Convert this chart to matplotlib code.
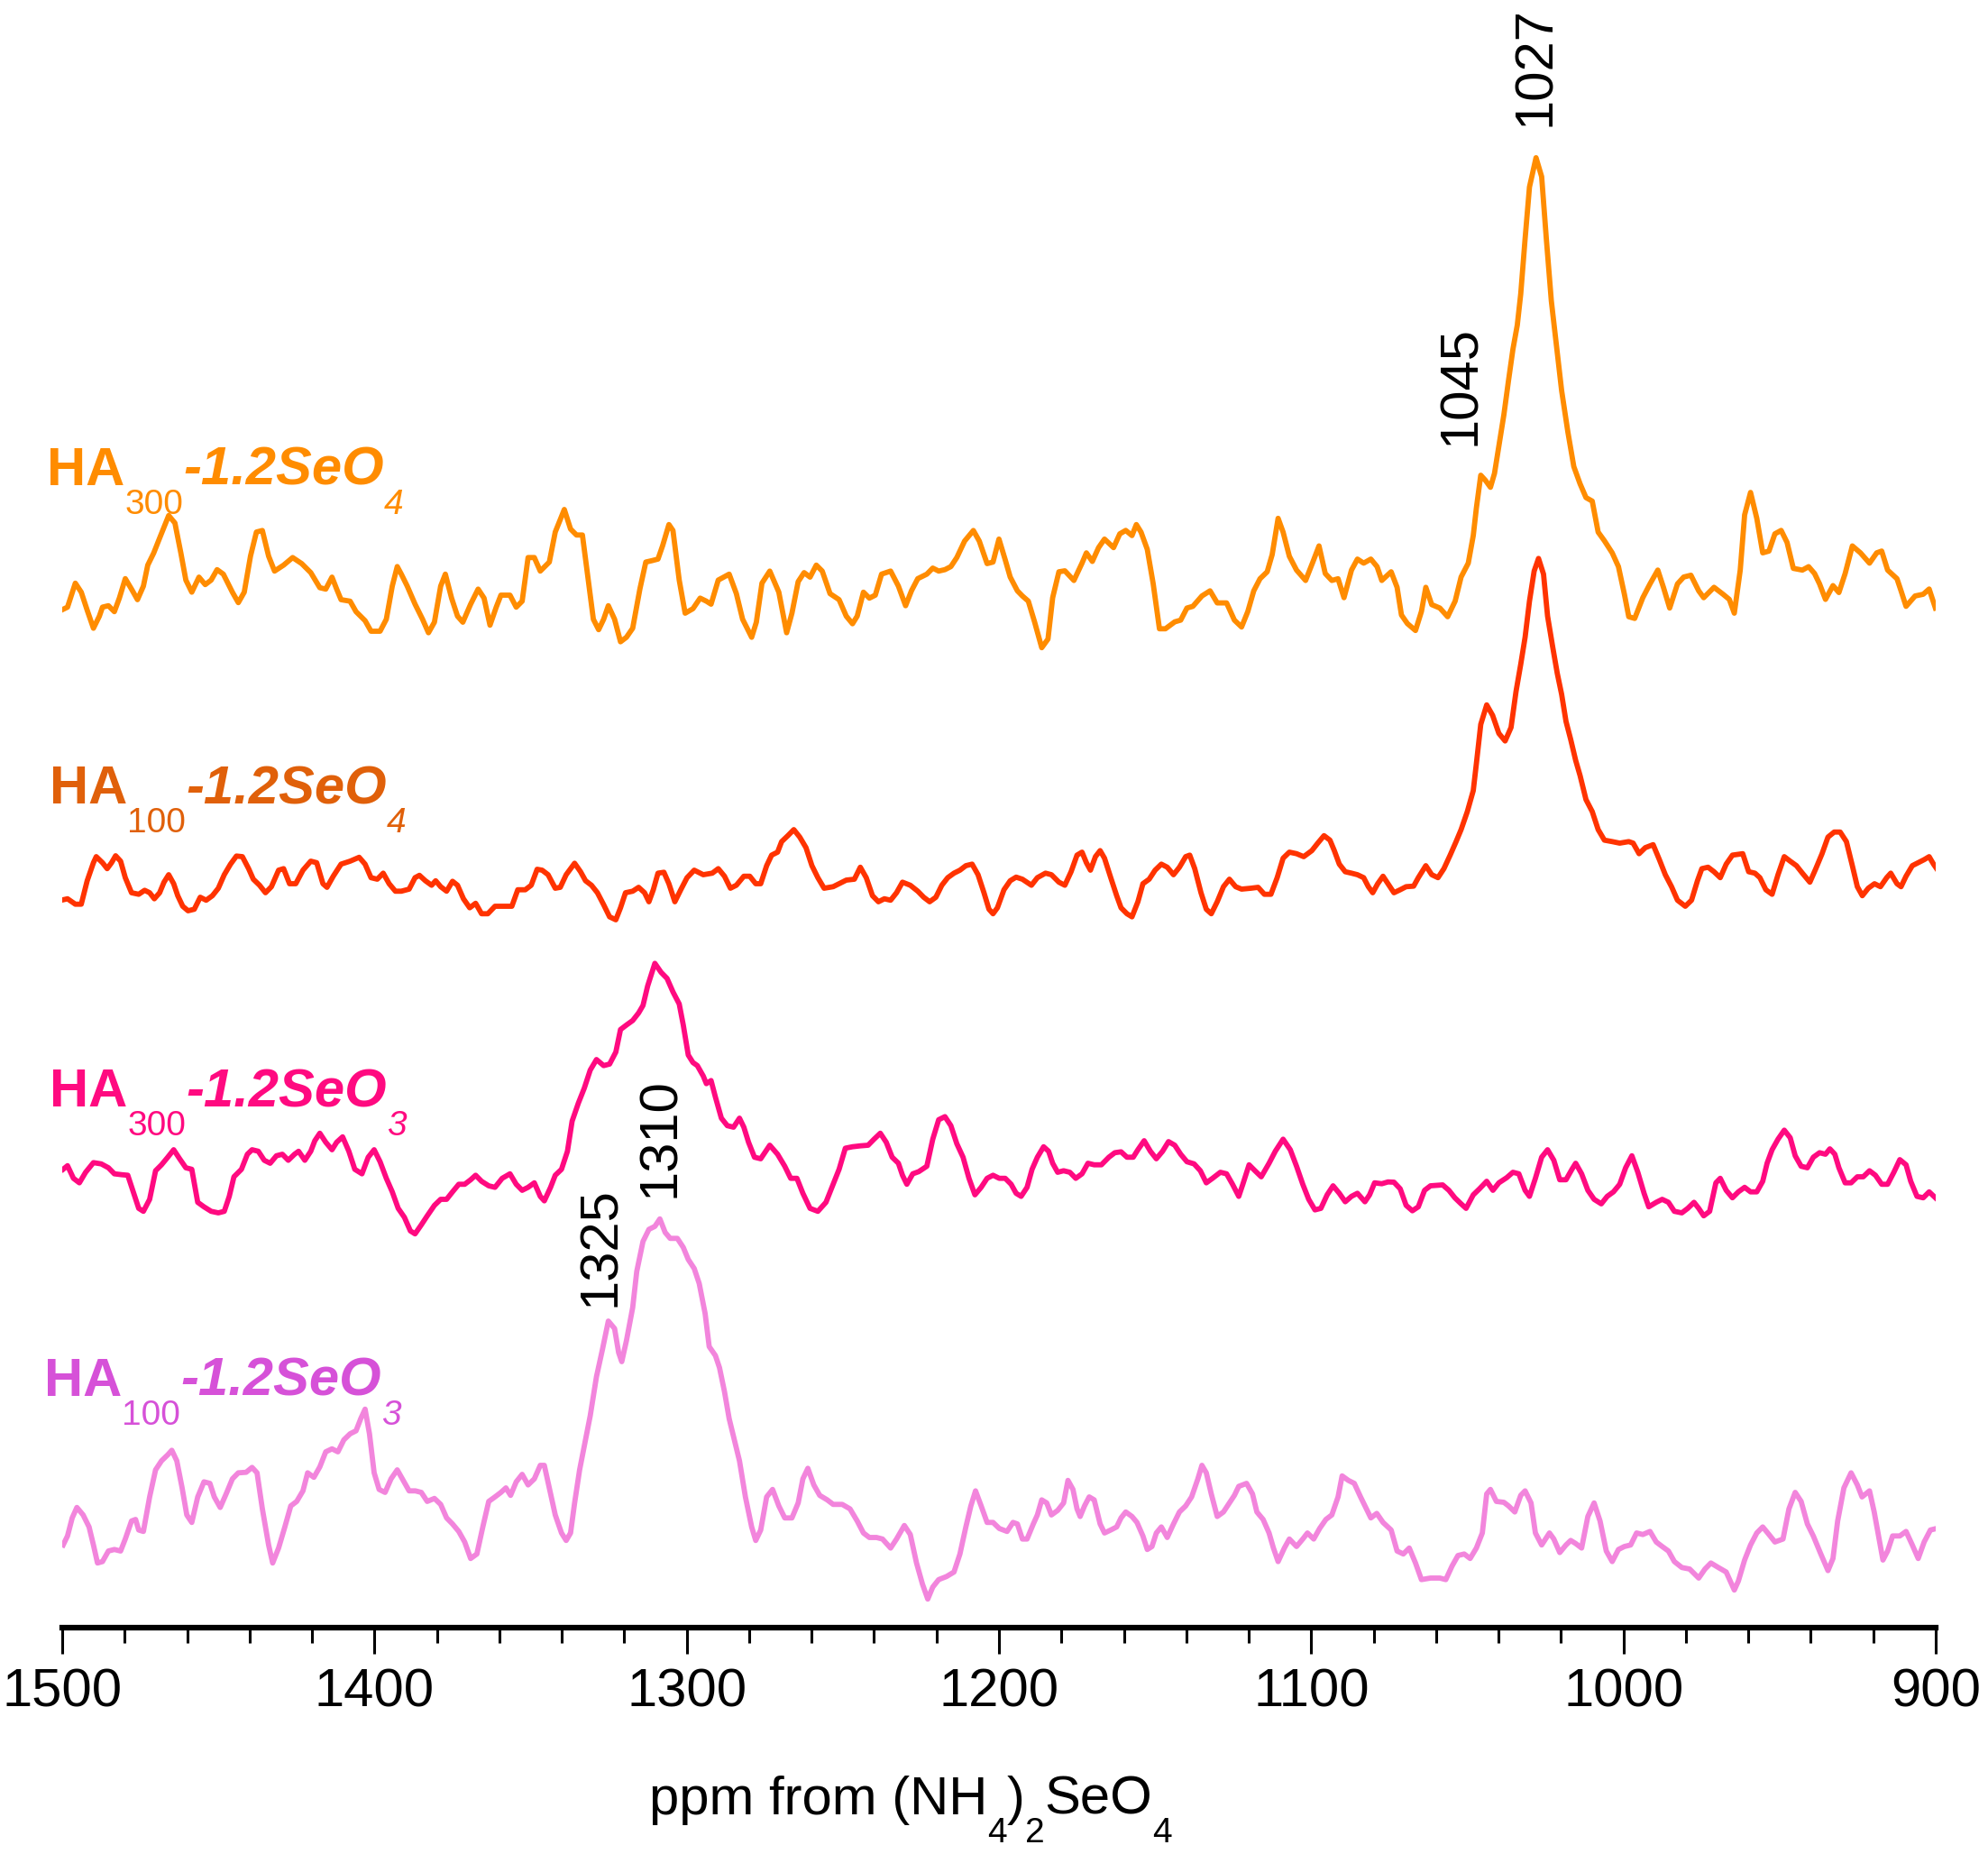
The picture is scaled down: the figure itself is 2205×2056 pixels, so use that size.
import numpy as np
import matplotlib
matplotlib.use("Agg")
import matplotlib.pyplot as plt
from matplotlib.ticker import MultipleLocator

plt.rcParams['font.family'] = ['Liberation Sans', 'DejaVu Sans']

# spectra: (ppm, intensity a.u.), each trace relative to its own baseline
ha300_seo4 = [
    (1500.3, 3.3), (1498.3, 6.7), (1495.8, 33.3), (1493.9, 23.3), (1492.0, 3.3), (1490.0, -16.7), (1488.1, -3.3),
    (1487.1, 6.7), (1485.2, 8.3), (1483.3, 1.7), (1481.7, 16.7), (1479.8, 38.3), (1477.8, 26.7), (1475.9, 15),
    (1474.0, 30), (1472.6, 53.3), (1470.7, 66.7), (1468.8, 83.3), (1465.9, 108.3), (1463.9, 100), (1462.0, 66.7),
    (1460.4, 36.7), (1458.5, 23.3), (1456.2, 40), (1454.2, 31.7), (1452.3, 36.7), (1450.4, 48.3), (1448.4, 43.3),
    (1445.5, 23.3), (1443.6, 11.7), (1441.7, 23.3), (1439.7, 63.3), (1437.8, 90), (1435.9, 91.7), (1433.9, 63.3),
    (1432.0, 46.7), (1429.1, 53.3), (1426.2, 61.7), (1423.3, 55), (1420.4, 45), (1417.5, 28.3), (1415.6, 26.7),
    (1413.6, 40), (1412.1, 26.7), (1410.7, 15), (1407.8, 13.3), (1405.9, 1.7), (1403.0, -8.3), (1401.1, -20),
    (1398.2, -20), (1396.2, -6.7), (1394.3, 30), (1392.7, 51.7), (1391.4, 43.3), (1389.5, 30), (1387.0, 10),
    (1384.6, -6.7), (1382.7, -21.7), (1380.8, -10), (1378.8, 30), (1377.3, 43.3), (1375.3, 16.7), (1373.4, -3.3),
    (1371.7, -10), (1369.2, 10), (1366.8, 26.7), (1364.9, 16.7), (1363.0, -13.3), (1361.0, 6.7), (1359.5, 20),
    (1356.6, 20), (1354.6, 6.7), (1352.7, 13.3), (1350.8, 61.7), (1348.8, 61.7), (1346.9, 46.7), (1344.0, 56.7),
    (1342.1, 90), (1339.2, 115), (1337.2, 93.3), (1335.3, 86.7), (1333.4, 86.7), (1331.4, 33.3), (1329.9, -6.7),
    (1328.2, -18.3), (1326.6, -6.7), (1325.1, 8.3), (1323.1, -6.7), (1321.2, -31.7), (1319.3, -26.7), (1317.3, -16.7),
    (1315.0, 26.7), (1313.1, 56.7), (1311.1, 58.3), (1309.2, 60), (1307.7, 75), (1305.7, 98.3), (1304.4, 91.7),
    (1302.4, 36.7), (1300.5, 0), (1298.0, 5), (1295.7, 16.7), (1293.7, 13.3), (1292.2, 10), (1289.9, 36.7),
    (1286.4, 43.3), (1284.1, 21.7), (1282.1, -6.7), (1279.2, -26.7), (1277.7, -10), (1275.9, 33.3), (1273.4, 46.7),
    (1270.5, 23.3), (1268.0, -21.7), (1266.3, 0), (1264.3, 35), (1262.4, 45), (1260.5, 40), (1258.5, 53.3),
    (1256.6, 46.7), (1254.1, 21.7), (1251.2, 15), (1248.9, -3.3), (1246.9, -11.7), (1245.4, -3.3), (1243.4, 23.3),
    (1241.5, 16.7), (1239.6, 20), (1237.6, 43.3), (1234.7, 46.7), (1232.2, 30), (1229.9, 8.3), (1228.0, 25),
    (1226.0, 38.3), (1223.1, 43.3), (1221.2, 50), (1219.3, 46.7), (1217.3, 48.3), (1215.4, 51.7), (1213.5, 61.7),
    (1211.0, 80), (1208.2, 91.7), (1206.3, 80), (1203.8, 55), (1201.9, 56.7),
    (1200.0, 82.2), (1198.0, 59.3), (1196.4, 40.1), (1194.1, 24.8), (1192.5, 19.1), (1190.6, 13.4), (1188.6, -9.6),
    (1186.3, -38.3), (1184.3, -28.7), (1182.8, 17.2), (1180.8, 45.9), (1178.9, 47.0), (1176.0, 36.3), (1173.4, 55.5),
    (1172.0, 66.9), (1170.1, 57.4), (1168.1, 72.7), (1166.2, 82.2), (1163.3, 72.7), (1161.3, 88.0), (1159.4, 91.8),
    (1157.4, 86.1), (1156.0, 98.3), (1154.5, 89.9), (1152.5, 70.8), (1150.6, 32.5), (1148.6, -17.3), (1146.7, -17.3),
    (1143.7, -9.6), (1141.8, -7.7), (1139.8, 5.7), (1137.9, 7.6), (1135.0, 19.1), (1132.4, 24.8), (1130.1, 11.4),
    (1127.1, 11.4), (1124.6, -7.7), (1122.3, -15.3), (1120.3, 1.9), (1118.4, 24.8), (1116.4, 38.2), (1114.1, 45.9),
    (1112.5, 65.0), (1110.6, 105.2), (1109.0, 89.9), (1107.0, 63.1), (1104.7, 47.8), (1101.8, 36.3), (1099.4, 57.4),
    (1097.5, 74.6), (1095.5, 44.0), (1093.4, 36.3), (1091.4, 38.2), (1089.5, 17.2), (1087.1, 47.8), (1085.2, 60.0),
    (1083.2, 55.5), (1080.9, 60.0), (1078.9, 51.6), (1077.4, 36.3), (1074.4, 45.9), (1072.5, 28.7), (1071.1, -2.0),
    (1069.2, -11.5), (1066.6, -19.2), (1064.7, 1.9), (1063.3, 28.7), (1061.4, 9.5), (1058.8, 5.7), (1056.3, -3.9),
    (1053.9, 13.4), (1052.0, 40.1), (1049.7, 55.5), (1048.1, 86.1), (1047.1, 116.7), (1045.7, 153.0), (1044.2, 147.3),
    (1042.6, 139.6), (1041.3, 155.0), (1039.9, 185.6), (1038.3, 220.0), (1036.8, 258.3), (1035.4, 292.7),
    (1034.0, 319.5), (1032.9, 354.0), (1031.5, 415.2), (1030.1, 472.6), (1028.0, 505.1), (1026.2, 484.1),
    (1024.7, 415.2), (1023.1, 346.3), (1021.2, 288.9), (1019.8, 246.8), (1017.8, 200.9), (1015.9, 162.6),
    (1013.9, 143.5), (1012.0, 128.2), (1010.0, 124.3), (1008.1, 89.9), (1006.1, 80.3), (1003.6, 66.9), (1001.6, 51.6),
    (999.7, 21.0), (998.3, -3.9), (996.4, -5.8), (993.8, 17.2), (991.5, 32.5), (989.0, 47.8), (987.2, 28.7),
    (985.2, 5.7), (982.7, 32.5), (980.7, 40.1), (978.4, 42.1), (975.9, 24.8), (974.3, 17.2), (971.0, 28.7),
    (968.1, 21.0), (966.1, 15.3), (964.5, 0), (962.6, 47.8), (961.2, 109.0), (959.3, 133.9), (957.3, 105.2),
    (955.4, 66.9), (953.4, 68.9), (951.5, 88.0), (949.5, 91.8), (947.6, 78.4), (945.6, 49.7), (942.7, 47.8),
    (940.7, 51.6), (938.8, 44.0), (937.2, 32.5), (935.3, 15.3), (932.9, 30.6), (931.0, 22.9), (929.0, 44.0),
    (926.7, 74.6), (924.1, 66.9), (921.2, 55.5), (918.9, 66.9), (917.3, 68.9), (915.4, 47.8), (912.4, 38.2),
    (911.1, 24.8), (909.5, 7.6), (906.6, 19.1), (904.0, 21.0), (902.1, 26.8), (900.1, 5.7),
]

ha100_seo4 = [
    (1500.3, 1.7), (1498.3, 3.3), (1495.8, -2.7), (1493.9, -2.7), (1492.0, 23.3), (1490.0, 43.3), (1489.1, 50),
    (1487.1, 43.3), (1485.6, 36.7), (1484.2, 43.3), (1482.9, 51), (1481.3, 45), (1479.8, 26.7), (1477.8, 10),
    (1475.5, 8.3), (1473.6, 12.7), (1472.0, 10), (1470.5, 3.3), (1468.8, 10), (1467.4, 21.7), (1465.9, 30),
    (1464.3, 20), (1463.0, 6.7), (1461.4, -5), (1459.7, -10), (1457.7, -8.3), (1455.8, 5), (1453.9, 1.7),
    (1451.9, 6.7), (1450.0, 15), (1448.1, 30), (1446.1, 41.7), (1444.2, 50.7), (1442.3, 50), (1440.3, 36.7),
    (1438.8, 25), (1436.8, 18.3), (1434.9, 10), (1433.0, 16.7), (1430.7, 35), (1429.1, 36.7), (1427.2, 20),
    (1425.2, 20), (1422.9, 35), (1420.4, 45), (1418.5, 43.3), (1416.5, 20), (1415.2, 16), (1413.2, 28.3),
    (1410.7, 41.7), (1407.8, 45), (1404.9, 49.3), (1403.0, 41.7), (1401.1, 26.7), (1399.1, 25), (1397.2, 31.7),
    (1395.3, 20), (1393.3, 11.7), (1391.4, 11.7), (1388.9, 14), (1387.0, 26.7), (1385.6, 29.3), (1383.7, 23.3),
    (1381.7, 18.3), (1380.4, 23.3), (1378.8, 16.7), (1376.9, 11.7), (1375.0, 22.7), (1373.4, 18.3), (1371.5, 3.3),
    (1369.5, -6.7), (1367.6, -1.7), (1365.7, -13.3), (1363.7, -13.3), (1361.4, -5), (1358.5, -5), (1356.0, -5),
    (1354.1, 13.3), (1351.7, 13.3), (1349.8, 18.3), (1347.9, 36), (1346.3, 35), (1344.4, 30), (1342.1, 15),
    (1340.5, 16), (1338.6, 30), (1335.9, 42.7), (1334.0, 33.3), (1332.4, 23.3), (1330.5, 18.3), (1328.6, 10),
    (1326.6, -3.3), (1324.7, -16.7), (1322.7, -20), (1321.2, -6.7), (1319.6, 10), (1317.3, 11.7), (1315.4, 16),
    (1313.5, 10), (1312.1, 0), (1310.7, 13.3), (1309.2, 31.7), (1307.3, 32.7), (1305.7, 20), (1303.8, 0),
    (1301.9, 13.3), (1299.9, 26.7), (1297.6, 35), (1294.7, 30), (1291.8, 31.7), (1289.9, 36.7), (1287.9, 28.3),
    (1286.0, 15), (1284.1, 18.3), (1281.7, 28.3), (1279.8, 28.3), (1277.9, 20), (1276.3, 20), (1274.4, 40),
    (1272.8, 51.7), (1270.9, 55), (1269.6, 66.7), (1267.6, 73.3), (1265.7, 80), (1263.8, 71.7), (1261.8, 60),
    (1259.9, 40), (1258.0, 26.7), (1256.0, 15), (1253.1, 16.7), (1251.2, 20), (1248.9, 24), (1246.3, 25),
    (1244.4, 38.3), (1242.5, 26.7), (1240.5, 6.7), (1238.6, 0), (1236.7, 3.3), (1234.7, 1.7), (1232.8, 10),
    (1230.9, 21.7), (1228.4, 18.3), (1226.0, 11.7), (1224.1, 5), (1222.2, 0), (1220.2, 5), (1218.3, 18.3),
    (1216.4, 26.7), (1214.4, 31.7), (1212.5, 35), (1210.6, 40), (1208.6, 41.7), (1206.7, 30), (1204.8, 10),
    (1203.2, -8.3), (1201.9, -13.3), (1200.5, -6.7),
    (1198.4, 13.3), (1196.4, 23.3), (1194.5, 27.3), (1192.5, 25), (1189.6, 18.3), (1187.7, 26.7), (1185.1, 31.7),
    (1183.2, 30), (1180.8, 21.7), (1178.9, 18.3), (1176.9, 33.3), (1175.0, 51.7), (1173.4, 55), (1172.0, 43.3),
    (1170.7, 35), (1169.1, 50), (1167.6, 56.7), (1166.2, 48.3), (1164.2, 26.7), (1162.3, 6.7), (1160.9, -6.7),
    (1159.0, -13.3), (1157.4, -16.7), (1155.5, 0), (1153.9, 20), (1151.9, 25), (1150.0, 35), (1148.0, 41.7),
    (1146.1, 38.3), (1144.1, 30), (1142.2, 38.3), (1140.2, 50), (1138.9, 51.7), (1137.3, 36.7), (1135.3, 10),
    (1133.6, -8.3), (1132.0, -13.3), (1130.1, 0), (1128.1, 16.7), (1126.2, 25), (1124.2, 16.7), (1122.3, 14),
    (1119.3, 15), (1117.0, 16), (1115.0, 8.3), (1112.9, 8.3), (1110.9, 26.7), (1109.0, 48.3), (1107.0, 55),
    (1104.7, 53.3), (1102.4, 50), (1099.8, 56.7), (1097.9, 65), (1095.9, 73.3), (1094.0, 68.3), (1092.6, 56.7),
    (1091.0, 41.7), (1089.1, 33.3), (1087.1, 31.7), (1085.2, 30), (1083.2, 26.7), (1081.7, 16.7), (1080.3, 10),
    (1078.7, 20), (1077.0, 28.3), (1075.4, 20), (1073.5, 10), (1071.5, 13.3), (1069.6, 16.7), (1067.2, 17.3),
    (1065.7, 26.7), (1063.3, 40), (1061.4, 30), (1059.4, 26.7), (1057.5, 36.7), (1055.5, 51.7), (1053.6, 66.7),
    (1052.0, 80), (1050.0, 100), (1048.1, 123.3), (1047.1, 153.3), (1045.7, 196.7), (1043.8, 218.3), (1041.9, 206.7),
    (1039.9, 186.7), (1037.9, 178.3), (1036.0, 193.3), (1034.4, 233.3), (1032.9, 263.3), (1031.5, 293.3),
    (1030.1, 333.3), (1028.6, 366.7), (1027.2, 380.7), (1025.6, 363.3), (1024.3, 316.7), (1022.7, 283.3),
    (1021.2, 253.3), (1019.8, 230), (1018.4, 200), (1016.9, 180), (1015.3, 156.7), (1013.9, 140), (1012.0, 113.3),
    (1010.0, 100), (1008.1, 80), (1006.1, 68.3), (1003.6, 66.7), (1001.2, 65), (998.3, 66.7), (996.9, 65),
    (995.0, 53.3), (993.0, 60), (990.5, 63.3), (988.5, 46.7), (986.6, 30), (984.6, 16.7), (982.7, 1.7), (980.2, -5),
    (978.2, 1.7), (976.3, 23.3), (974.9, 36.7), (972.9, 38.3), (971.0, 33.3), (969.0, 26.7), (967.1, 41.7),
    (965.1, 51.7), (961.8, 53.3), (959.9, 33.3), (957.9, 31.7), (956.3, 26.7), (954.4, 13.3), (952.4, 8.3),
    (950.5, 30), (948.5, 50), (946.6, 45), (944.6, 40), (942.7, 31.7), (940.3, 21.7), (938.4, 36.7), (936.4, 53.3),
    (934.5, 71.7), (932.5, 77.3), (930.6, 77.3), (928.6, 66.7), (926.7, 40), (925.1, 16.7), (923.5, 6.7),
    (921.6, 15), (919.6, 20), (917.7, 16.7), (915.7, 26.7), (914.4, 31.7), (912.4, 20), (911.1, 16.7), (909.5, 28.3),
    (907.5, 40), (905.6, 43.3), (903.7, 46.7), (902.1, 50), (900.7, 41.7), (899.7, 36.7),
]

ha300_seo3 = [
    (1499.7, 3.3), (1498.3, 7.3), (1496.4, -6.7), (1494.5, -11.7), (1492.5, 0), (1490.0, 10.7), (1487.5, 9.3),
    (1485.2, 5), (1483.3, -1.7), (1480.9, -2.7), (1479.0, -3.3), (1477.1, -23.3), (1475.5, -40), (1474.0, -43.3),
    (1472.0, -30), (1470.1, 1.7), (1468.2, 8.3), (1466.2, 16.7), (1464.3, 25), (1462.4, 15), (1460.4, 5),
    (1458.5, 3.3), (1456.6, -33.3), (1454.6, -38.3), (1452.3, -43.3), (1450.0, -45), (1448.1, -43.3), (1446.5, -26.7),
    (1445.0, -5), (1442.6, 3.3), (1440.7, 20), (1439.2, 25), (1437.2, 23.3), (1435.3, 13.3), (1433.4, 10),
    (1431.4, 18.3), (1429.5, 20), (1427.6, 13.3), (1425.6, 20), (1424.3, 23.3), (1422.3, 13.3), (1420.4, 23.3),
    (1419.1, 35), (1417.5, 43.3), (1415.6, 33.3), (1413.6, 25), (1412.1, 33.3), (1410.2, 39.3), (1408.2, 23.3),
    (1406.3, 3.3), (1404.0, -1.7), (1402.0, 16.7), (1400.1, 25), (1398.2, 11.7), (1396.2, -6.7), (1394.3, -21.7),
    (1392.4, -40), (1390.4, -50), (1388.5, -65), (1387.0, -68.3), (1385.0, -58.3), (1383.1, -48.3), (1380.8, -36.7),
    (1378.8, -30), (1376.9, -30), (1375.0, -21.7), (1373.0, -13.3), (1371.1, -13.3), (1369.2, -8.3), (1367.6, -3.3),
    (1365.7, -10), (1363.4, -15), (1361.4, -16.7), (1359.1, -6.7), (1356.6, -1.7), (1354.6, -13.3), (1352.7, -20),
    (1350.8, -16.7), (1348.8, -11.7), (1346.9, -26.7), (1345.6, -31.7), (1343.6, -16.7), (1342.1, -3.3),
    (1340.1, 3.3), (1338.2, 23.3), (1336.7, 56.7), (1334.7, 76.7), (1332.8, 93.3), (1330.9, 113.3), (1328.9, 125),
    (1326.6, 118.3), (1324.7, 120), (1322.7, 133.3), (1321.2, 158.3), (1319.3, 163.3), (1317.3, 168.3),
    (1315.4, 176.7), (1314.0, 185), (1312.5, 206.7), (1310.2, 231.7), (1308.2, 221.7), (1306.3, 215), (1304.4, 200),
    (1302.4, 186.7), (1301.1, 163.3), (1299.5, 130), (1298.0, 121.7), (1296.6, 118.3), (1294.7, 106.7),
    (1293.7, 98.3), (1292.2, 101.7), (1290.8, 83.3), (1288.9, 60), (1287.0, 51.7), (1285.0, 50), (1283.1, 60),
    (1281.7, 50), (1280.2, 33.3), (1278.3, 16.7), (1276.3, 15), (1273.4, 30), (1270.9, 20), (1268.6, 6.7),
    (1266.7, -6.7), (1264.7, -6.7), (1262.8, -23.3), (1260.5, -40), (1258.0, -43.3), (1255.4, -33.3), (1253.1, -13.3),
    (1251.2, 3.3), (1249.2, 26.7), (1246.9, 28.3), (1244.4, 29.3), (1241.9, 30), (1240.0, 36.7), (1238.0, 43.3),
    (1236.1, 33.3), (1234.2, 16.7), (1232.2, 10), (1230.9, -3.3), (1229.5, -13.3), (1227.6, -1.7), (1225.7, 0.7),
    (1223.1, 6.7), (1221.2, 36.7), (1219.3, 58.3), (1217.3, 61.7), (1215.4, 51.7), (1213.5, 31.7), (1211.5, 16.7),
    (1209.6, -6.7), (1207.7, -25), (1205.7, -16.7), (1203.8, -6.7), (1201.9, -3.3), (1199.9, -6.7),
    (1198.0, -6.7), (1196.1, -13.3), (1194.5, -23.3), (1192.9, -26.7), (1191.0, -16.7), (1189.4, 3.3), (1187.7, 16.7),
    (1185.7, 28.3), (1184.1, 23.3), (1182.8, 10), (1181.2, 0), (1179.3, 1.7), (1177.3, 0), (1175.4, -6.7),
    (1173.4, -1.7), (1171.5, 10), (1169.5, 8.3), (1167.2, 8.3), (1164.8, 16.7), (1162.9, 21.7), (1160.9, 22.7),
    (1159.0, 16.7), (1157.0, 16.7), (1155.5, 25), (1153.5, 35), (1151.5, 23.3), (1149.6, 15), (1147.6, 23.3),
    (1145.7, 34), (1143.7, 30), (1141.8, 20), (1139.8, 11.7), (1137.5, 9.3), (1135.5, 1.7), (1133.6, -11.7),
    (1131.6, -6.7), (1129.1, 0), (1127.1, -1.7), (1125.2, -13.3), (1123.2, -26.7), (1121.9, -13.3), (1119.9, 8.3),
    (1118.0, 1.7), (1116.0, -5), (1113.5, 10), (1111.5, 23.3), (1109.0, 36.7), (1106.7, 25), (1104.7, 6.7),
    (1102.7, -13.3), (1100.8, -30), (1098.8, -41.7), (1096.9, -40), (1094.9, -25), (1093.0, -15), (1091.0, -23.3),
    (1089.1, -32.7), (1087.1, -26.7), (1085.2, -23.3), (1082.8, -32.7), (1081.3, -25), (1079.7, -11.7),
    (1077.4, -12.7), (1075.4, -10.7), (1073.5, -11), (1071.5, -18.3), (1069.6, -36.7), (1067.6, -42.7),
    (1065.7, -38.3), (1063.7, -20), (1061.8, -15), (1057.9, -14), (1055.9, -20), (1054.0, -28.3), (1052.0, -35),
    (1050.4, -40), (1048.1, -25), (1046.1, -18.3), (1043.8, -10), (1041.8, -20), (1039.9, -11.7), (1037.4, -6),
    (1035.4, 0), (1033.5, -1.7), (1031.5, -20), (1030.1, -26.7), (1028.2, -6.7), (1026.2, 16.7), (1024.3, 25),
    (1022.3, 13.3), (1020.4, -8.3), (1018.4, -8.3), (1016.5, 3.3), (1015.3, 10), (1013.4, -1.7), (1011.4, -20),
    (1009.4, -30), (1007.1, -35), (1005.2, -26.7), (1003.2, -21.7), (1001.2, -13.3), (999.3, 5), (997.3, 18.3),
    (995.4, 0), (993.4, -23.3), (991.9, -38.3), (989.5, -33.3), (987.6, -30), (985.6, -33.3), (983.7, -43.3),
    (981.3, -45), (979.4, -40), (977.4, -33.3), (975.9, -40), (974.3, -48.3), (972.4, -43.3), (970.4, -11.7),
    (969.0, -6.7), (967.1, -20), (965.1, -28.3), (963.2, -21.7), (961.2, -16.7), (959.3, -21.7), (957.3, -21.7),
    (955.4, -10), (954.0, 10), (952.4, 25), (950.5, 36.7), (948.5, 46.7), (946.6, 38.3), (945.0, 18.3), (943.1, 6.7),
    (941.1, 5), (939.2, 16.7), (937.2, 21.7), (935.3, 20), (933.9, 26), (932.3, 20), (931.0, 5), (929.0, -11.7),
    (927.1, -11.7), (925.1, -5), (923.2, -5), (921.2, 1.7), (919.3, -3.3), (917.3, -13.3), (915.4, -13.3),
    (913.4, 0), (911.5, 14), (909.5, 8.3), (908.0, -10), (906.0, -26.7), (904.0, -28.3), (902.1, -21.7),
    (900.1, -28.3),
]

ha100_seo3 = [
    (1499.7, -13.3), (1498.3, -3.3), (1496.8, 16.7), (1495.3, 28.3), (1493.3, 20), (1491.4, 6.7), (1490.0, -13.3),
    (1488.7, -33.3), (1487.1, -31.7), (1485.2, -20), (1483.3, -18.3), (1481.3, -20), (1479.8, -6.7), (1477.8, 13.3),
    (1476.5, 15), (1475.5, 3.3), (1474.0, 1.7), (1472.0, 40), (1470.1, 70), (1468.2, 80), (1466.2, 86.7),
    (1464.9, 91.7), (1463.3, 80), (1461.6, 50), (1460.1, 20), (1458.5, 11.7), (1456.6, 40), (1454.6, 56.7),
    (1452.7, 55), (1451.3, 40), (1449.4, 28.3), (1447.5, 43.3), (1445.5, 60), (1443.6, 66.7), (1441.1, 67.3),
    (1439.2, 72.7), (1437.6, 66.7), (1435.9, 26.7), (1433.9, -13.3), (1432.6, -33.3), (1430.7, -16.7), (1428.7, 6.7),
    (1426.8, 30), (1424.9, 35), (1422.9, 46.7), (1421.4, 66.7), (1419.4, 61.7), (1417.5, 73.3), (1415.6, 90),
    (1413.6, 93.3), (1411.7, 90), (1409.8, 103.3), (1407.8, 110), (1405.9, 113.3), (1404.4, 126.7), (1403.0, 137.3),
    (1401.6, 110), (1400.1, 66.7), (1398.5, 48.3), (1396.6, 45), (1394.7, 60), (1392.7, 70), (1390.8, 58.3),
    (1388.9, 46.7), (1386.9, 46.7), (1385.0, 45), (1383.1, 35), (1380.8, 38.3), (1378.8, 31.7), (1376.9, 16.7),
    (1375.0, 10), (1373.0, 1.7), (1371.1, -10), (1369.2, -28.3), (1367.2, -23.3), (1365.3, 6.7), (1363.4, 35),
    (1361.4, 40), (1359.5, 45), (1357.9, 50), (1356.4, 41.7), (1354.6, 56.7), (1352.7, 65), (1350.8, 53.3),
    (1348.8, 60), (1346.9, 75), (1345.6, 75), (1344.0, 50), (1342.1, 20), (1340.1, 0), (1338.6, -8.3), (1337.2, 0),
    (1335.9, 33.3), (1334.3, 70), (1332.4, 103.3), (1330.9, 130), (1328.9, 173.3), (1327.0, 203.3), (1325.1, 235),
    (1323.1, 226.7), (1321.8, 200), (1320.8, 190), (1319.3, 213.3), (1317.3, 250), (1316.0, 290), (1314.0, 323.3),
    (1312.1, 336.7), (1310.2, 340), (1308.6, 348.3), (1306.9, 333.3), (1305.3, 326.7), (1303.0, 326.7),
    (1301.1, 316.7), (1299.5, 303.3), (1297.6, 293.3), (1296.0, 276.7), (1294.1, 243.3), (1292.8, 206.7),
    (1290.8, 196.7), (1289.5, 183.3), (1287.9, 156.7), (1286.4, 126.7), (1285.0, 106.7), (1283.1, 80), (1281.2, 40),
    (1279.2, 6.7), (1277.9, -8.3), (1276.3, 3.3), (1274.4, 40), (1272.5, 48.3), (1270.5, 30), (1268.6, 16.7),
    (1266.3, 16.7), (1264.3, 33.3), (1262.8, 60), (1261.2, 71.7), (1259.3, 53.3), (1257.4, 41.7), (1255.0, 36.7),
    (1253.1, 31.7), (1250.2, 31.7), (1247.7, 26.7), (1245.4, 13.3), (1243.4, 0), (1241.5, -5), (1239.2, -5),
    (1237.3, -6.7), (1234.7, -16.7), (1232.8, -6.7), (1230.3, 8.3), (1228.4, -1.7), (1226.4, -33.3), (1224.5, -56.7),
    (1222.8, -73.3), (1221.2, -60), (1219.3, -51.7), (1216.8, -48.3), (1214.4, -43.3), (1212.5, -23.3), (1210.6, 6.7),
    (1209.0, 30), (1207.5, 46.7), (1205.7, 30), (1203.8, 11.7), (1201.9, 11.7), (1199.9, 5),
    (1197.4, 1.7), (1195.5, 11.7), (1194.1, 10), (1192.5, -6.7), (1191.0, -6.7), (1189.0, 10), (1187.7, 20),
    (1186.3, 36.7), (1184.7, 33.3), (1183.2, 20), (1181.2, 25), (1179.3, 33.3), (1177.9, 58.3), (1176.3, 48.3),
    (1175.0, 26.7), (1174.0, 18.3), (1172.6, 30), (1171.1, 40), (1169.5, 36.7), (1167.6, 10), (1166.2, 0),
    (1164.2, 3.3), (1162.3, 6.7), (1160.9, 16.7), (1159.4, 23.3), (1157.4, 18.3), (1155.8, 11.7), (1153.9, -3.3),
    (1152.5, -18.3), (1151.0, -15), (1149.6, 0), (1148.0, 6.7), (1146.1, -5), (1144.1, 10), (1142.2, 23.3),
    (1140.2, 30), (1138.3, 40), (1136.3, 60), (1135.0, 75), (1133.6, 66.7), (1132.0, 43.3), (1130.1, 18.3),
    (1128.1, 23.3), (1126.2, 33.3), (1124.6, 41.7), (1123.2, 51.7), (1120.7, 55), (1118.8, 43.3), (1117.4, 23.3),
    (1115.4, 15), (1113.5, 0), (1112.1, -16.7), (1110.6, -31.7), (1108.6, -16.7), (1107.0, -6.7), (1104.7, -15),
    (1102.7, -6.7), (1101.2, 0), (1099.2, -6.7), (1097.3, 5), (1095.3, 15), (1093.4, 20), (1091.4, 40),
    (1090.1, 63.3), (1088.1, 58.3), (1086.2, 55), (1084.2, 40), (1082.3, 26.7), (1080.9, 16.7), (1079.0, 21.7),
    (1077.0, 11.7), (1074.4, 3.3), (1072.5, -20), (1070.5, -23.3), (1068.6, -16.7), (1066.6, -33.3), (1064.7, -51.7),
    (1061.8, -50), (1058.8, -50), (1056.9, -51.7), (1054.9, -36.7), (1053.0, -25), (1051.0, -23.3), (1049.1, -28.3),
    (1047.1, -16.7), (1045.2, 0), (1043.8, 43.3), (1042.6, 48.3), (1040.7, 35), (1038.3, 34), (1036.8, 30),
    (1034.8, 23.3), (1032.9, 41.7), (1031.5, 46.7), (1029.6, 33.3), (1028.2, 0), (1026.2, -13.3), (1023.7, 0),
    (1022.3, -6.7), (1020.4, -21.7), (1018.4, -13.3), (1016.9, -8.3), (1015.3, -11.7), (1013.4, -16.7),
    (1011.4, 18.3), (1009.4, 33.3), (1007.5, 13.3), (1005.5, -20), (1003.6, -31.7), (1001.6, -18.3), (999.7, -15),
    (997.7, -13.3), (995.8, 0), (993.8, -1.7), (991.5, 1.7), (989.5, -10), (987.6, -15), (985.6, -20),
    (983.7, -31.7), (981.3, -38.3), (978.8, -40), (975.9, -50), (973.9, -40), (972.0, -33.3), (969.6, -38.3),
    (967.1, -43.3), (964.5, -63.3), (963.2, -53.3), (961.2, -30), (959.3, -13.3), (957.3, 0), (955.4, 6.7),
    (953.4, -1.7), (951.5, -10), (948.9, -6.7), (947.0, 26.7), (945.0, 45), (943.1, 35), (941.1, 10), (939.2, -3.3),
    (936.8, -23.3), (934.5, -41.7), (932.9, -28.3), (931.4, 13.3), (929.4, 50), (927.1, 66.7), (925.1, 53.3),
    (923.6, 40), (921.2, 46.7), (919.7, 23.3), (918.3, -3.3), (916.9, -30), (915.4, -20), (913.8, -3.3),
    (911.5, -3.3), (909.5, 1.7), (907.5, -13.3), (905.6, -28.3), (903.7, -10), (901.7, 3.3), (899.7, 5),
]

series = [ha300_seo4, ha100_seo4, ha300_seo3, ha100_seo3]
offsets = [1125, 805, 505, 105]
line_colors = ['#FF8C00', '#FF3300', '#FF0A80', '#F285DC']
label_colors = ['#FF8C00', '#E0600A', '#FF0A80', '#D651D8']
label_sub1 = ['300', '100', '300', '100']
label_sub2 = ['4', '4', '3', '3']

peak_text = ['1027', '1045', '1310', '1325']
peak_x = [1028.0, 1052.0, 1308.3, 1327.6]
peak_y = [1731, 1377, 543, 422]

W, H = 2205, 2056
fig = plt.figure(figsize=(W / 100, H / 100), dpi=100)
ax = fig.add_axes([69 / W, 251 / H, 2078 / W, 1805 / H])

for data, off, col in zip(series, offsets, line_colors):
    ppm, inten = np.array(data).T
    ax.plot(ppm, inten + off, color=col, lw=4.2, solid_joinstyle='round')

for s, x, y in zip(peak_text, peak_x, peak_y):
    ax.text(x, y, s, rotation=90, ha='center', va='center', fontsize=43, color='black')

ax.set_xlim(1500, 900)
ax.set_ylim(0, 1805)
ax.set_yticks([])
for side in ['top', 'left', 'right']:
    ax.spines[side].set_visible(False)
ax.spines['bottom'].set_linewidth(4.5)
ax.xaxis.set_major_locator(MultipleLocator(100))
ax.xaxis.set_minor_locator(MultipleLocator(20))
ax.tick_params(axis='x', which='major', length=21, width=2.2, pad=11, labelsize=43, direction='out')
ax.tick_params(axis='x', which='minor', length=12, width=2.2, direction='out')

renderer = fig.canvas.get_renderer()


def put_pieces(x_px, base_px, pieces, color):
    # x_px, base_px measured from the top-left corner of the image
    x = x_px
    for s, size, weight, style, drop in pieces:
        t = fig.text(x / W, (H - base_px - drop) / H, s, fontsize=size, fontweight=weight,
                     fontstyle=style, color=color, ha='left', va='baseline')
        x += t.get_window_extent(renderer).width


label_x = [52, 55, 55, 49]
label_base = [538, 891, 1227, 1548]
for i in range(4):
    put_pieces(label_x[i], label_base[i], [
        ('HA', 43, 'bold', 'normal', 0),
        (label_sub1[i], 28, 'normal', 'normal', 32),
        ('-1.2SeO', 43, 'bold', 'italic', 0),
        (label_sub2[i], 28, 'normal', 'italic', 32),
    ], label_colors[i])

put_pieces(720, 2012, [
    ('ppm from (NH', 43, 'normal', 'normal', 0),
    ('4', 28, 'normal', 'normal', 31),
    (')', 43, 'normal', 'normal', 0),
    ('2', 28, 'normal', 'normal', 31),
    ('SeO', 43, 'normal', 'normal', 0),
    ('4', 28, 'normal', 'normal', 31),
], 'black')

fig.savefig('out.png', dpi=100)
